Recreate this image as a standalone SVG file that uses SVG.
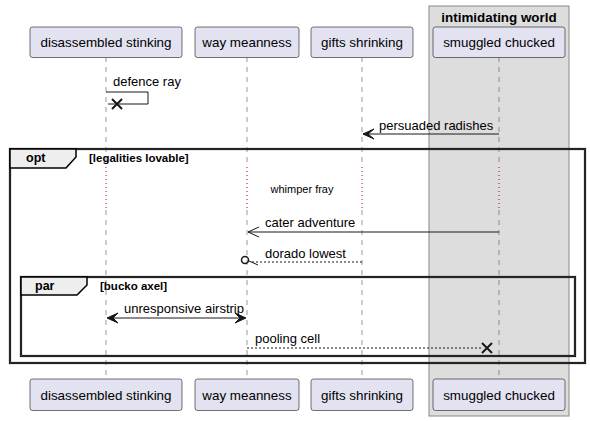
<svg xmlns="http://www.w3.org/2000/svg" width="590" height="421" viewBox="0 0 590 421">
<defs>
<style>
.part{fill:#E2E2F0;stroke:#181818;stroke-width:0.6}
.ptxt{font-family:"Liberation Sans",Arial,sans-serif;font-size:13.4px;fill:#000;text-anchor:middle}
.life{stroke:#555;stroke-width:0.6;stroke-dasharray:5 5;fill:none}
.delay{stroke:#A80036;stroke-width:1;stroke-dasharray:1 3;fill:none}
.msg{stroke:#181818;stroke-width:1;fill:none}
.dash{stroke:#181818;stroke-width:1;fill:none;stroke-dasharray:2 2}
.mtxt{font-family:"Liberation Sans",Arial,sans-serif;font-size:13px;fill:#000}
.ftxt{font-family:"Liberation Sans",Arial,sans-serif;font-size:11.5px;font-weight:bold;fill:#000}
.ftab{font-family:"Liberation Sans",Arial,sans-serif;font-size:12.5px;font-weight:bold;fill:#000}
.frame{fill:none;stroke:#000;stroke-width:2.2}
.frame2{fill:none;stroke:#777;stroke-width:0.6}
.tab{fill:#EEEEEE;stroke:#000;stroke-width:1.5}
</style>
</defs>
<rect x="0" y="0" width="590" height="421" fill="#fff"/>
<g id="box-intimidating-world">
<rect x="429" y="6" width="140" height="410" fill="#DDDDDD" stroke="#888" stroke-width="1"/>
<text x="499" y="22" style="font-family:'Liberation Sans',Arial,sans-serif;font-size:13.4px;font-weight:bold;text-anchor:middle">intimidating world</text>
</g>
<g id="lifelines">
<path class="life" d="M106 57V167M106 210V379"/>
<path class="life" d="M247 57V167M247 210V379"/>
<path class="life" d="M362 57V167M362 210V379"/>
<path class="life" d="M499 57V167M499 210V379"/>
<path class="delay" d="M106 167V210M247 167V210M362 167V210M499 167V210"/>
</g>
<g id="frame-opt">
<rect class="frame" x="10" y="149" width="575" height="214"/>
<rect class="frame2" x="10" y="149" width="575" height="214"/>
<path class="tab" d="M10 149H76V157L66 168H10Z"/>
<text class="ftab" x="26" y="162">opt</text>
<text class="ftxt" x="89" y="162">[legalities lovable]</text>
</g>
<g id="frame-par">
<rect class="frame" x="21" y="277" width="554" height="79"/>
<rect class="frame2" x="21" y="277" width="554" height="79"/>
<path class="tab" d="M21 277H87V285L77 295H21Z"/>
<text class="ftab" x="35" y="290">par</text>
<text class="ftxt" x="100" y="290">[bucko axel]</text>
</g>
<g id="participant-disassembled-stinking">
<rect class="part" x="30" y="27" width="152" height="30.5" rx="2.5"/>
<text class="ptxt" x="106" y="47">disassembled stinking</text>
<rect class="part" x="30" y="379" width="152" height="31.5" rx="2.5"/>
<text class="ptxt" x="106" y="399.5">disassembled stinking</text>
</g>
<g id="participant-way-meanness">
<rect class="part" x="195" y="27" width="104" height="30.5" rx="2.5"/>
<text class="ptxt" x="247" y="47">way meanness</text>
<rect class="part" x="195" y="379" width="104" height="31.5" rx="2.5"/>
<text class="ptxt" x="247" y="399.5">way meanness</text>
</g>
<g id="participant-gifts-shrinking">
<rect class="part" x="311" y="27" width="102" height="30.5" rx="2.5"/>
<text class="ptxt" x="362" y="47">gifts shrinking</text>
<rect class="part" x="311" y="379" width="102" height="31.5" rx="2.5"/>
<text class="ptxt" x="362" y="399.5">gifts shrinking</text>
</g>
<g id="participant-smuggled-chucked">
<rect class="part" x="433" y="27" width="132" height="30.5" rx="2.5"/>
<text class="ptxt" x="499" y="47">smuggled chucked</text>
<rect class="part" x="433" y="379" width="132" height="31.5" rx="2.5"/>
<text class="ptxt" x="499" y="399.5">smuggled chucked</text>
</g>
<g id="connectors">
<path class="msg" d="M106 92H148V104H108"/>
<path d="M112 99L122 109M122 99L112 109" stroke="#181818" stroke-width="2" fill="none"/>
<text class="mtxt" x="113" y="86">defence ray</text>

<path class="msg" d="M499 134H363"/>
<path d="M374 129L363 134L374 139L368 134Z" fill="#181818" stroke="#181818" stroke-width="1"/>
<text class="mtxt" x="379" y="130">persuaded radishes</text>

<text x="302" y="193" style="font-family:'Liberation Sans',Arial,sans-serif;font-size:11px;text-anchor:middle">whimper fray</text>

<path class="msg" d="M499 232H248M259 227L248 232L259 237"/>
<text class="mtxt" x="265" y="227">cater adventure</text>

<path class="dash" d="M362 262H250"/>
<path class="msg" d="M249 261L258 265"/>
<circle cx="245" cy="260" r="3.5" fill="none" stroke="#181818" stroke-width="1.5"/>
<text class="mtxt" x="265" y="258">dorado lowest</text>

<path class="msg" d="M108 318H245"/>
<path d="M107 318L118 313L113 318L118 323Z" fill="#181818" stroke="#181818" stroke-width="1"/>
<path d="M246 318L235 313L240 318L235 323Z" fill="#181818" stroke="#181818" stroke-width="1"/>
<text class="mtxt" x="124" y="313">unresponsive airstrip</text>

<path class="dash" d="M247 348H482"/>
<path d="M482 343L492 353M492 343L482 353" stroke="#181818" stroke-width="2" fill="none"/>
<text class="mtxt" x="255" y="343">pooling cell</text>
</g>
</svg>
